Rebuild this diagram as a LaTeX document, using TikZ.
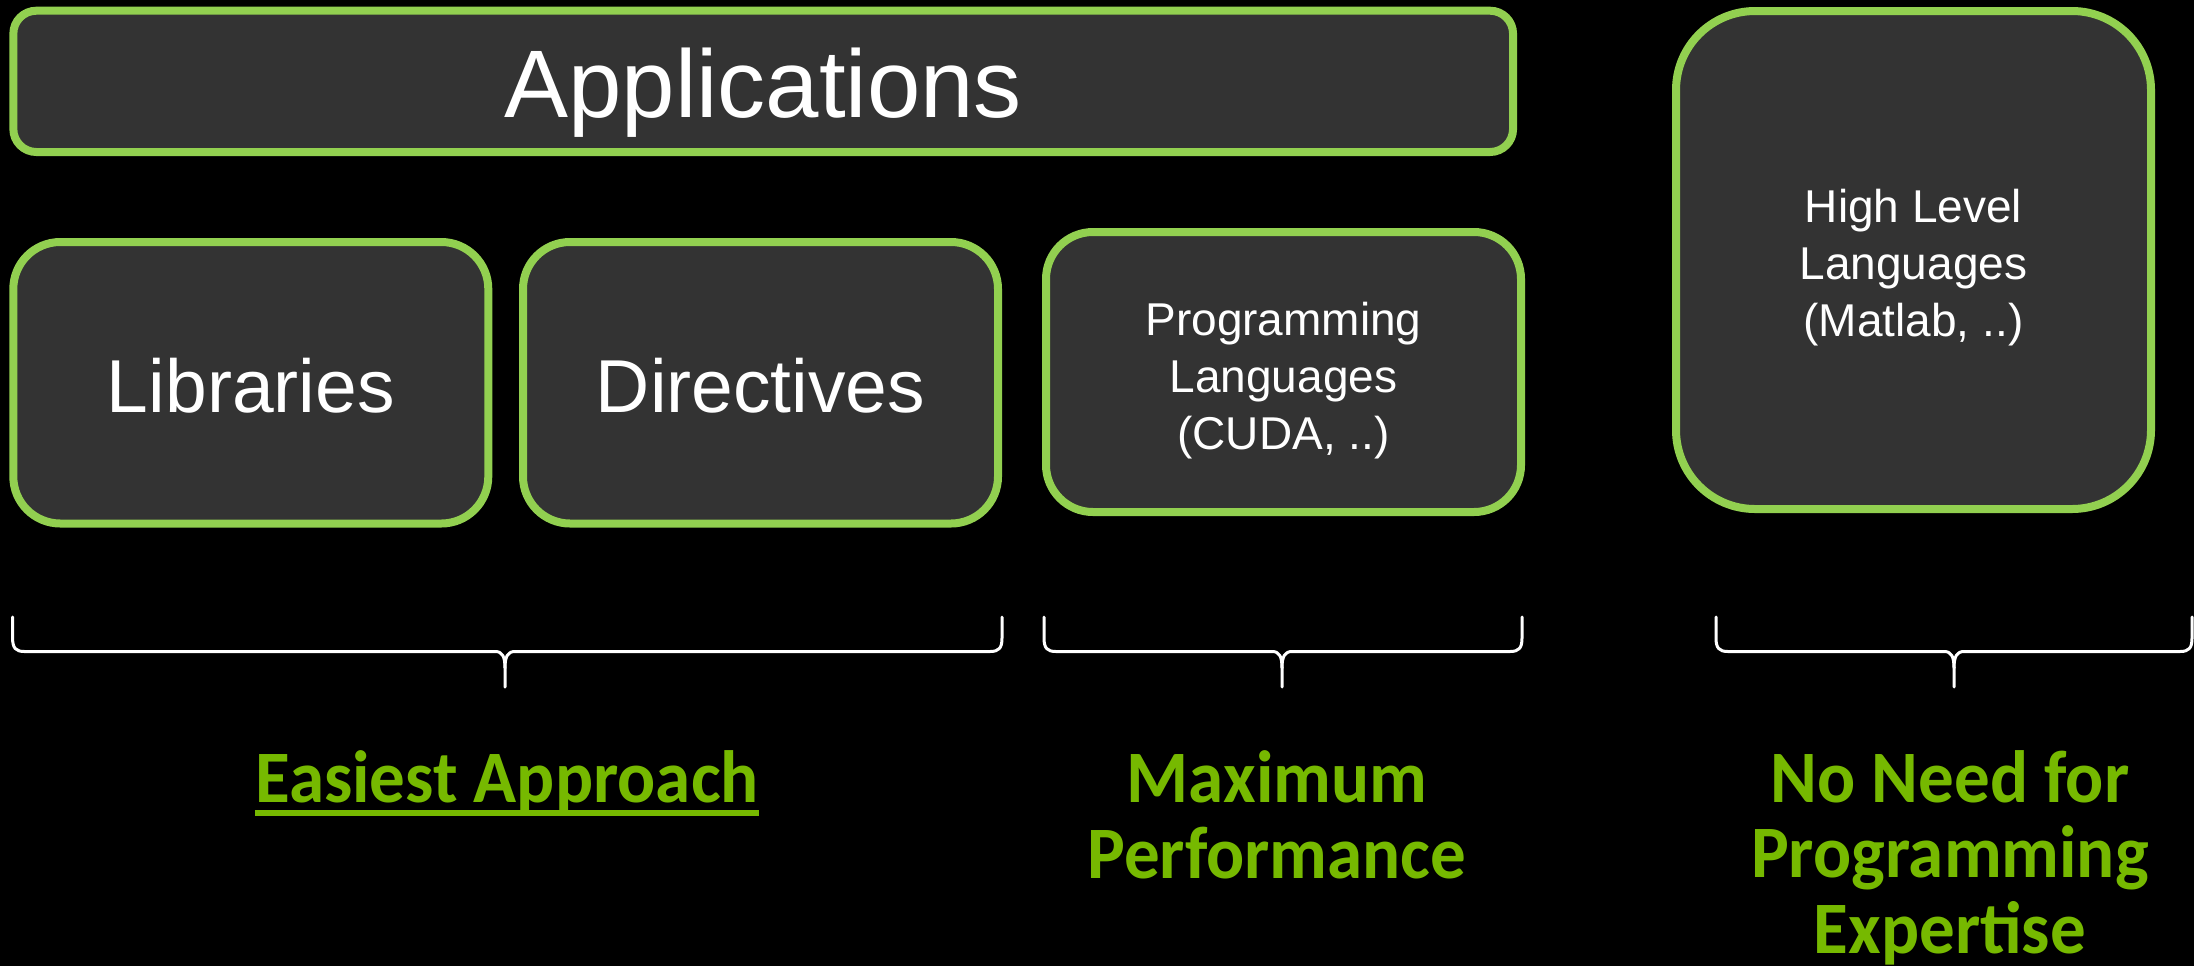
\documentclass[tikz,border=0pt]{standalone}
\usepackage{fontspec}
\setmainfont{Liberation Sans}
\newfontfamily\tagfont{Carlito}[FakeStretch=0.96]
\definecolor{tileedge}{HTML}{92D050}
\definecolor{tilefill}{HTML}{333333}
\definecolor{taggreen}{HTML}{76B900}
\begin{document}
\begin{tikzpicture}[x=0.5pt,y=-0.5pt,
  tile/.style={draw=tileedge, fill=tilefill, line width=4pt, inner sep=0pt,
    text=white, align=center},
  bigtile/.style={tile, font=\fontsize{37.5}{45}\selectfont,
    minimum width=237.5pt, minimum height=140.75pt, rounded corners=23.5pt,
    text height=29.25pt, text depth=0pt},
  smalltext/.style={font=\fontsize{23}{28.5}\selectfont},
  brace/.style={draw=white, line width=1.5pt, line cap=round, line join=round},
  tag/.style={text=taggreen, font=\tagfont\bfseries\fontsize{37}{37.75}\selectfont,
    align=center, inner sep=0pt, anchor=base}]

% page
\fill[black] (0,0) rectangle (2194,966);
\useasboundingbox (0,0) rectangle (2194,966);

% tiles (text height/depth place the baselines inside each tile)
\node[tile, font=\fontsize{48}{57}\selectfont, minimum width=749.85pt,
  minimum height=70.65pt, rounded corners=11.5pt, text height=35.65pt,
  text depth=0pt] (app) at (763.2,81.35) {Applications};
\node[bigtile] (lib) at (250.8,382.75) {Libraries};
\node[bigtile] (dir) at (760.5,382.75) {Directives};
\node[tile, smalltext, minimum width=237.5pt, minimum height=140pt,
  rounded corners=23.5pt, text height=77pt, text depth=0pt] (prog) at (1283.5,372)
  {Programming\\Languages\\(CUDA, ..)};
\node[tile, smalltext, minimum width=237.5pt, minimum height=249pt,
  rounded corners=39.5pt, text height=76pt, text depth=0pt] (high) at (1913.5,260)
  {High Level\\Languages\\(Matlab, ..)};

% braces under the groups
\foreach \a/\m/\b in {12.6/505/1002, 1044/1282/1522, 1716/1954/2192}{
  \draw[brace] (\a,617) -- (\a,638) .. controls (\a,648) and (\a+3,651.5) .. (\a+12,651.5)
    -- (\m-10,651.5) .. controls (\m-3,651.5) and (\m,656) .. (\m,668) -- (\m,687);
  \draw[brace] (\m,668) .. controls (\m,656) and (\m+3,651.5) .. (\m+10,651.5)
    -- (\b-12,651.5) .. controls (\b-3,651.5) and (\b,648) .. (\b,638) -- (\b,617);
}

% group captions (base = baseline of the last line)
\node[tag] (easy) at (507,802) {Easiest Approach};
\draw[taggreen, line width=3pt] ([yshift=-5.25pt]easy.base west) -- ([yshift=-5.25pt]easy.base east);
\node[tag] (maxperf) at (1277,878) {Maximum\\Performance};
\node[tag] (noneed) at (1950,953) {No Need for\\Programming\\Expertise};
\end{tikzpicture}
\end{document}
